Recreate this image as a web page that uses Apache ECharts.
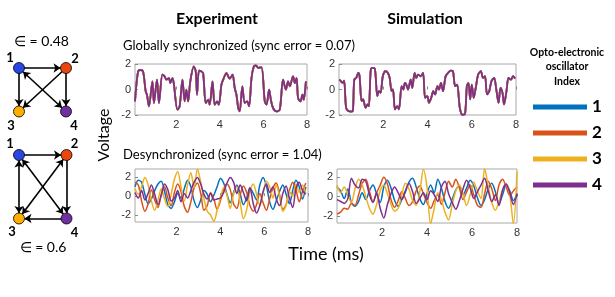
<!DOCTYPE html>
<html><head><meta charset="utf-8">
<script src="https://cdn.jsdelivr.net/npm/echarts@6/dist/echarts.min.js"></script>
<style>html,body{margin:0;padding:0;background:#fff}#c{width:615px;height:297px}</style>
</head><body><div id="c"></div>
<script>
// ---------- data ----------
const SERIES_NAMES = ['1','2','3','4'];
const COLORS = ['#0072BD','#D95319','#EDB120','#7E2F8E'];
const NODE_COLORS = ['#2A48E0','#E8470E','#FFAE00','#7030A0'];
const X_TICKS = [2,4,6,8];
const Y_TICKS = [-2,0,2];

// Experiment, globally synchronized (all four traces overlap)
const TL_T = [0.1,0.24,0.35,0.47,0.59,0.65,0.74,0.90,0.97,1.11,1.20,1.36,1.46,1.54,1.66,1.72,1.82,1.88,2.05,2.15,2.28,2.38,2.46,2.54,2.64,2.80,2.89,2.95,3.04,3.15,3.23,3.35,3.46,3.53,3.66,3.76,3.87,3.95,4.07,4.15,4.30,4.38,4.45,4.58,4.68,4.76,4.84,4.91,5.03,5.14,5.25,5.34,5.45,5.56,5.65,5.76,5.91,6.06,6.14,6.26,6.34,6.44,6.60,6.75,6.90,7.03,7.13,7.21,7.36,7.44,7.52,7.59,7.70,7.79,7.85,7.95];
const TL_V = [-0.93,1.42,1.53,1.42,-0.14,-0.41,-1.32,0.64,-1.06,0.77,-1.06,1.16,1.03,0.77,0.90,0.51,0.90,0.51,-1.58,-1.32,0.77,-0.93,-0.01,-0.93,0.64,1.82,1.42,-0.41,1.48,1.42,1.29,-1.06,-0.80,-1.19,0.64,-1.19,-0.93,-1.19,0.38,0.77,1.29,1.03,0.85,1.16,0.12,-0.41,-1.45,-1.71,0.25,-1.06,-0.93,-1.32,0.90,1.82,1.90,1.69,1.74,-0.93,-1.19,-0.01,-0.80,-1.45,-1.71,-1.58,0.77,-0.01,0.64,0.25,1.03,0.51,0.90,-0.67,-0.93,-0.41,-0.80,0.64];

// Simulation, globally synchronized
const TR_T = [0.02,0.11,0.17,0.23,0.32,0.42,0.57,0.63,0.69,0.78,0.87,0.93,1.02,1.09,1.20,1.29,1.35,1.43,1.50,1.62,1.73,1.80,1.88,1.98,2.10,2.21,2.29,2.38,2.44,2.53,2.63,2.71,2.83,2.91,2.98,3.04,3.12,3.24,3.31,3.42,3.49,3.57,3.69,3.80,3.89,3.99,4.07,4.17,4.26,4.34,4.45,4.52,4.61,4.70,4.82,4.93,5.05,5.15,5.25,5.34,5.46,5.58,5.69,5.78,5.85,5.93,6.00,6.09,6.18,6.29,6.41,6.51,6.60,6.69,6.79,6.89,7.01,7.12,7.21,7.30,7.39,7.46,7.57,7.66,7.77,7.87,7.96];
const TR_V = [0.78,0.60,0.52,0.70,-1.43,-1.69,-1.74,-1.64,0.78,0.91,1.30,1.04,-0.91,-0.78,-1.43,-1.17,-1.30,1.43,1.69,1.64,-0.52,-0.13,-0.26,1.04,1.43,1.30,0.91,-0.13,0.00,-1.56,-1.30,-1.56,0.26,0.00,0.52,0.39,0.00,0.78,0.13,1.30,0.91,1.17,1.04,1.30,-0.65,-0.52,-1.04,-0.65,-0.13,-0.39,0.26,0.00,0.52,-0.13,1.04,1.30,1.48,1.43,0.26,0.39,-1.43,-1.98,-1.95,0.26,0.52,-0.78,0.39,-0.65,0.13,1.17,1.43,0.91,1.04,-0.39,-0.13,0.65,0.91,-0.13,-1.04,0.13,-0.26,-1.17,-0.13,0.91,0.78,1.04,0.86];

// Experiment, desynchronized
const BL_T = [0.1,0.25,0.4,0.55,0.7,0.85,1.0,1.15,1.3,1.45,1.6,1.75,1.9,2.05,2.2,2.35,2.5,2.65,2.8,2.95,3.1,3.25,3.4,3.55,3.7,3.85,4.0,4.15,4.3,4.45,4.6,4.75,4.9,5.05,5.2,5.35,5.5,5.65,5.8,5.95,6.1,6.25,6.4,6.55,6.7,6.85,7.0,7.15,7.3,7.45,7.6,7.75,7.9];
const BL_1 = [1.0,1.7,1.5,0.2,-0.8,-0.3,0.6,1.3,1.6,0.5,-0.9,-1.3,-0.6,0.3,-0.2,0.8,1.7,1.0,-0.5,-1.2,-0.4,0.6,0.2,-0.6,0.1,1.0,1.9,1.4,0.2,-0.7,0.4,1.2,0.3,-0.9,-0.2,0.9,0.3,-0.4,1.2,2.0,1.1,-0.6,-1.4,-0.5,0.5,1.2,0.2,-0.8,0.6,1.7,1.0,-0.3,1.0];
const BL_2 = [1.5,1.2,-0.5,-1.6,-0.8,0.7,-0.4,-1.2,0.2,1.0,-0.2,-1.0,0.4,1.3,0.5,-1.1,-1.7,-0.6,0.9,1.4,0.3,-1.5,-1.0,0.4,-0.3,-1.4,-0.5,0.8,1.3,0.7,-0.8,-1.3,0.1,1.1,0.4,-1.0,-1.6,-0.9,0.3,-0.7,-1.5,-0.3,0.9,1.4,0.2,-1.4,-0.9,0.6,1.5,0.7,-0.6,0.5,1.4];
const BL_3 = [0.8,0.2,1.0,2.0,1.2,-0.5,-1.5,-0.4,0.8,-0.3,-1.1,0.2,1.8,2.6,1.0,-0.5,1.2,2.5,0.9,2.9,1.5,-0.3,-1.6,-2.0,-2.7,-1.5,-0.2,0.9,0.1,-1.3,0.2,1.0,-0.6,-2.4,-1.4,0.5,1.3,0.2,-1.0,0.3,1.6,1.0,-0.2,1.2,0.0,-1.6,-1.0,0.5,0.0,1.3,0.4,1.2,0.3];
const BL_4 = [0.4,-0.2,0.6,-0.4,0.3,1.2,0.2,-0.9,0.1,1.3,0.7,-0.5,-0.2,0.6,-0.6,0.3,-0.2,0.6,1.5,2.0,1.3,0.2,-0.3,0.3,-0.4,-0.3,-0.2,0.4,1.4,2.0,1.5,0.3,1.2,0.4,-0.5,0.9,-0.8,-1.8,-1.0,0.5,1.3,0.4,1.0,-0.3,-1.0,0.3,1.1,-0.2,-1.2,0.8,1.5,0.6,0.2];

// Simulation, desynchronized
const BR_T = [0,0.16,0.32,0.48,0.64,0.80,0.96,1.12,1.28,1.44,1.60,1.76,1.92,2.08,2.24,2.40,2.56,2.72,2.88,3.04,3.20,3.36,3.52,3.68,3.84,4.00,4.16,4.32,4.48,4.64,4.80,4.96,5.12,5.28,5.44,5.60,5.76,5.92,6.08,6.24,6.40,6.56,6.72,6.88,7.04,7.20,7.36,7.52,7.68,7.84,8.00];
const BR_1 = [1.0,0.6,-0.2,0.8,-0.6,-1.0,-0.5,0.4,-0.3,0.6,1.2,0.3,-0.6,1.0,1.7,0.9,-0.4,-1.0,-0.3,0.5,1.5,1.9,1.0,-0.2,-0.8,0.3,1.2,0.4,1.8,0.9,-0.5,-1.2,-0.3,0.7,1.1,0.2,0.9,1.7,1.1,-0.1,-0.9,-0.3,0.8,1.4,0.5,-0.7,0.2,1.2,0.6,-0.4,0.3];
const BR_2 = [-1.8,-1.6,-1.2,-1.3,-0.7,-0.9,0.2,1.4,1.8,0.6,-0.5,0.4,1.2,2.0,1.3,-0.3,-1.1,-0.4,0.5,-0.2,-0.9,-0.5,0.6,1.1,0.3,-0.6,-1.2,-0.4,0.2,-0.8,0.4,1.6,1.0,1.8,0.9,-0.3,0.5,1.2,0.2,-0.9,-1.1,0.3,1.6,0.8,-0.4,1.2,1.8,1.0,0.1,0.6,1.0];
const BR_3 = [1.2,0.4,1.0,0.2,-0.6,0.8,1.8,1.2,0.0,-1.2,-1.8,-0.8,0.6,1.2,0.3,-0.8,-1.5,-1.2,0.2,1.4,0.8,-0.4,-0.9,0.5,2.8,1.0,-2.8,-1.2,0.4,-0.3,-1.6,-2.4,-0.8,0.6,1.2,0.3,-0.9,0.2,1.5,0.6,-0.2,2.9,1.1,-0.6,-1.4,-0.5,0.7,1.3,0.2,-2.8,2.6];
const BR_4 = [-0.3,-0.5,-0.7,-0.2,1.9,1.2,0.9,1.8,1.6,0.2,-0.6,0.4,-1.2,-2.2,-0.8,0.3,1.0,0.4,-0.3,0.6,1.4,0.5,-0.7,-0.2,0.4,-0.3,0.6,0.2,-0.5,1.0,1.6,0.3,-0.6,-1.3,-0.4,0.8,1.7,0.9,-0.2,0.5,1.2,1.9,0.6,-0.5,0.2,-0.9,0.7,1.3,0.4,-0.8,0.3];

// network diagrams: node grid positions (0/1) and links
const NET_NODES = [[0,1],[1,1],[0,0],[1,0]];
const NET_TOP_LINKS = [[0,1,'one'],[0,2,'one'],[1,3,'one'],[1,2,'one'],[0,3,'both']];
const NET_BOT_LINKS = [[0,1,'one'],[0,2,'both'],[1,3,'one'],[3,2,'one'],[0,3,'both'],[1,2,'both']];

// ---------- chart ----------
const chart = echarts.init(document.getElementById('c'), null, {renderer:'canvas'});
const pairs = (t, v) => t.map((x, i) => [x, v[i]]);
const TICKF = 'Liberation Sans';
const UI = 'Lato';

function xAx(gi, min) {
  return {type:'value', gridIndex:gi, min:min, max:8,
    splitLine:{show:false}, axisLine:{show:false},
    axisTick:{show:true, inside:true, length:3, lineStyle:{color:'#8a8a8a'}, customValues:X_TICKS},
    axisLabel:{customValues:X_TICKS, color:'#333', fontSize:11, fontFamily:TICKF, margin:4}};
}
function yAx(gi, min, max) {
  return {type:'value', gridIndex:gi, min:min, max:max,
    splitLine:{show:false}, axisLine:{show:false},
    axisTick:{show:true, inside:true, length:3, lineStyle:{color:'#8a8a8a'}, customValues:Y_TICKS},
    axisLabel:{customValues:Y_TICKS, color:'#333', fontSize:11, fontFamily:TICKF, margin:4}};
}
const hidden = gi => ({type:'value', gridIndex:gi, min:0, max:1, show:false});
const gridBox = {show:true, borderColor:'#a8a8a8', borderWidth:1, backgroundColor:'#fff'};

function lineSeries(gi, t, vals, width) {
  return vals.map((v, k) => ({
    type:'line', name:SERIES_NAMES[k], xAxisIndex:gi, yAxisIndex:gi,
    data:pairs(t, v), showSymbol:false, symbol:'none', smooth:0.3,
    lineStyle:{color:COLORS[k], width:width}, itemStyle:{color:COLORS[k]},
    z:2+k, silent:true
  }));
}

const TOP_OFF = [[-9,-10],[9,-9],[-8,14],[8,14]];
const BOT_OFF = [[-9,-11],[8,-11],[-7,13],[8,14]];
function netSeries(gi, links, offs) {
  return {
    type:'graph', coordinateSystem:'cartesian2d', xAxisIndex:gi, yAxisIndex:gi,
    symbolSize:11, edgeSymbolSize:7, silent:true, z:5,
    itemStyle:{borderColor:'#000', borderWidth:0.8},
    lineStyle:{color:'#000', width:1.6, opacity:1},
    label:{show:true, position:'inside', fontWeight:'bold', fontSize:13, fontFamily:UI, color:'#000'},
    data:NET_NODES.map((p, i) => ({name:'n'+i, value:p, itemStyle:{color:NODE_COLORS[i]},
      label:{formatter:String(i+1), offset:offs[i]}})),
    links:links.map(l => ({source:'n'+l[0], target:'n'+l[1],
      symbol:l[2]==='both' ? ['arrow','arrow'] : ['none','arrow']}))
  };
}

function txt(x, y, text, size, weight, extra) {
  return Object.assign({type:'text', x:x, y:y, silent:true,
    style:Object.assign({text:text, fontSize:size, fontWeight:weight||'normal', fontFamily:UI, fill:'#000',
      align:'left', verticalAlign:'middle', textAlign:'left', textVerticalAlign:'middle'}, (extra&&extra.style)||{})},
    extra ? {rotation:extra.rotation||0} : {});
}
const C = {style:{align:'center', textAlign:'center'}};

const option = {
  animation:false,
  backgroundColor:'#fff',
  grid:[
    Object.assign({left:135, top:64, width:172, height:51}, gridBox),
    Object.assign({left:339, top:64, width:177, height:51}, gridBox),
    Object.assign({left:135, top:169, width:173, height:53}, gridBox),
    Object.assign({left:337, top:169, width:180, height:54}, gridBox),
    {left:19, top:68, width:47, height:43.5, show:false},
    {left:19, top:155, width:47.5, height:63.5, show:false}
  ],
  xAxis:[xAx(0,0.1), xAx(1,0), xAx(2,0.1), xAx(3,0), hidden(4), hidden(5)],
  yAxis:[yAx(0,-2,2), yAx(1,-2,2), yAx(2,-2.75,2.9), yAx(3,-2.72,2.86), hidden(4), hidden(5)],
  legend:{data:SERIES_NAMES, orient:'vertical', left:533, top:98, padding:0,
    itemWidth:54, itemHeight:5, itemGap:8, icon:'rect', selectedMode:false,
    textStyle:{fontSize:17, fontWeight:'bold', fontFamily:UI, color:'#000', lineHeight:18}},
  series:[].concat(
    lineSeries(0, TL_T, [TL_V, TL_V, TL_V, TL_V], 1.8),
    lineSeries(1, TR_T, [TR_V, TR_V, TR_V, TR_V], 1.8),
    lineSeries(2, BL_T, [BL_1, BL_2, BL_3, BL_4], 1.5),
    lineSeries(3, BR_T, [BR_1, BR_2, BR_3, BR_4], 1.5),
    [netSeries(4, NET_TOP_LINKS, TOP_OFF), netSeries(5, NET_BOT_LINKS, BOT_OFF)]
  ),
  graphic:[
    txt(217, 19, 'Experiment', 16, 'bold', C),
    txt(425, 19, 'Simulation', 16, 'bold', C),
    txt(123, 46, 'Globally synchronized (sync error = 0.07)', 13),
    txt(123, 155, 'Desynchronized (sync error = 1.04)', 13),
    txt(104, 135, 'Voltage', 16, 'normal', {rotation:Math.PI/2, style:{align:'center', textAlign:'center'}}),
    txt(326, 254, 'Time (ms)', 18, 'normal', C),
    txt(567, 67, 'Opto-electronic\noscillator\nIndex', 10.5, 'bold', {style:{align:'center', textAlign:'center', lineHeight:14.5}}),
    txt(41.5, 41, '∈ = 0.48', 14, 'normal', C),
    txt(43, 247, '∈ = 0.6', 14, 'normal', C)
  ]
};
chart.setOption(option);
</script></body></html>
